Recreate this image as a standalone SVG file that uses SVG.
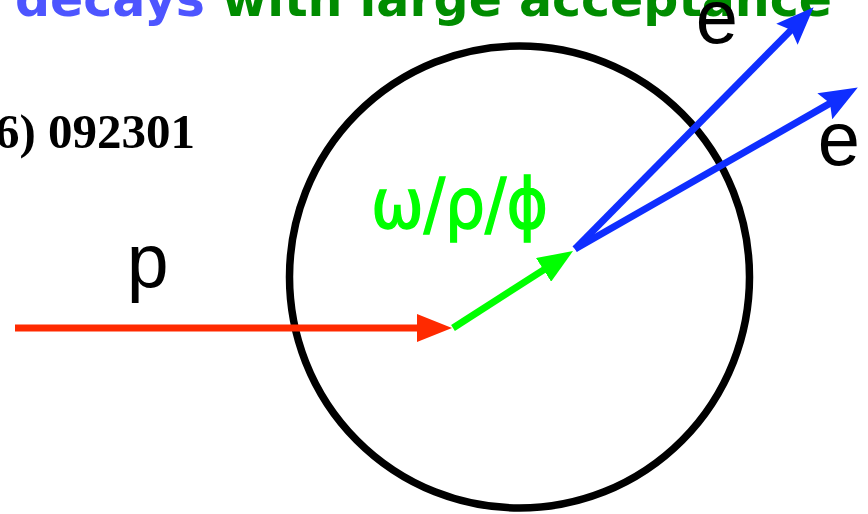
<svg xmlns="http://www.w3.org/2000/svg" width="868" height="514" viewBox="0 0 868 514">
<style>
.lbl{font-family:"Liberation Mono","Courier New",monospace;font-size:76px;fill:#000}
.arr{fill:none;stroke-width:7}
</style>
<defs>
<marker id="ar" viewBox="0 0 35 28" refX="20" refY="14" markerWidth="35" markerHeight="28" markerUnits="userSpaceOnUse" orient="auto"><path d="M0,0L35,14L0,28z" fill="#ff2a00"/></marker>
<marker id="ag" viewBox="0 0 35 28" refX="20" refY="14" markerWidth="35" markerHeight="28" markerUnits="userSpaceOnUse" orient="auto"><path d="M0,0L35,14L0,28z" fill="#00ff00"/></marker>
<marker id="ab" viewBox="0 0 38 30" refX="22" refY="15" markerWidth="38" markerHeight="30" markerUnits="userSpaceOnUse" orient="auto"><path d="M0,0L38,15L0,30L6,15z" fill="#0f2eff"/></marker>
</defs>
<g id="title">
<text x="15" y="16" font-family="DejaVu Sans" font-weight="bold" font-size="49"><tspan fill="#4d55ff">decays</tspan> <tspan fill="#008c00">with large acceptance</tspan></text>
</g>
<g id="ref">
<text x="-5" y="148" font-family="Liberation Serif" font-weight="bold" font-size="49" fill="#000">6) 092301</text>
</g>
<g id="target">
<ellipse cx="519.5" cy="277" rx="230" ry="231" fill="none" stroke="#000" stroke-width="7.5"/>
</g>
<g id="connectors">
<line class="arr" x1="15" y1="328" x2="437" y2="328" stroke="#ff2a00" marker-end="url(#ar)"/>
<line class="arr" x1="453" y1="328" x2="560.4" y2="259.1" stroke="#00ff00" stroke-width="9" marker-end="url(#ag)"/>
<line class="arr" x1="575" y1="249" x2="802.4" y2="18.6" stroke="#0f2eff" marker-end="url(#ab)"/>
<line class="arr" x1="575" y1="249" x2="843.9" y2="95.4" stroke="#0f2eff" marker-end="url(#ab)"/>
</g>
<g id="labels">
<text class="lbl" x="125" y="287">p</text>
<text class="lbl" x="694" y="43">e</text>
<text class="lbl" x="816" y="165">e</text>
<text x="371" y="228" font-family="DejaVu Sans" font-size="70" fill="#00ff00" stroke="#00ff00" stroke-width="1.5" textLength="177" lengthAdjust="spacingAndGlyphs">ω/ρ/ϕ</text>
</g>
</svg>
